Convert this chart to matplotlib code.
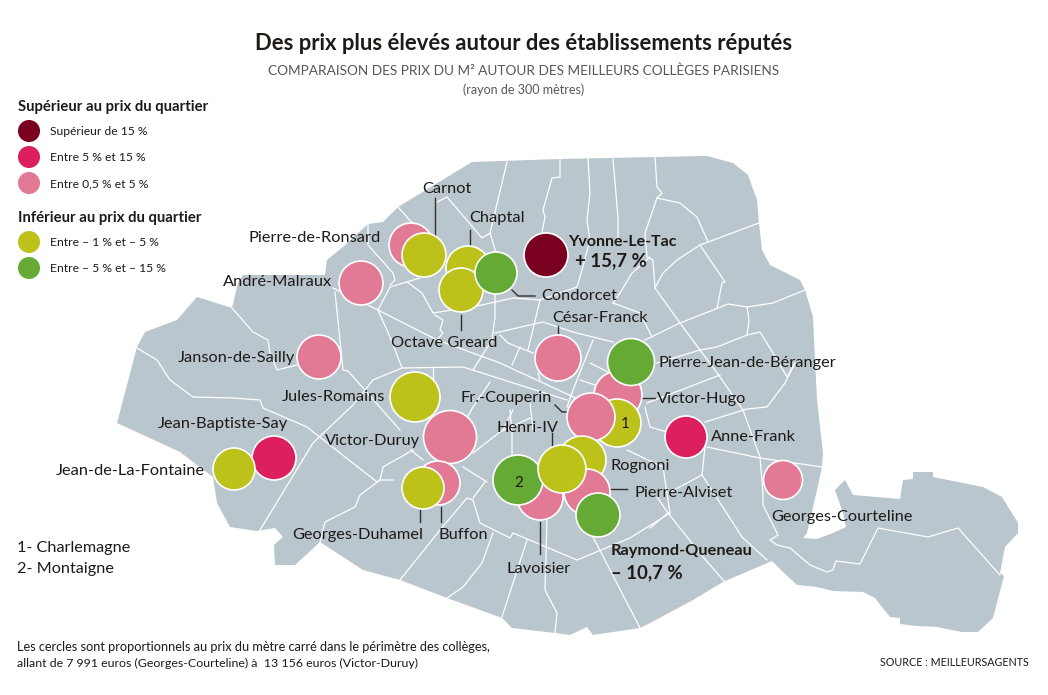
import matplotlib
matplotlib.use('Agg')
import matplotlib.pyplot as plt
from matplotlib.patches import Polygon, Circle

# Paris outline (image pixels)
paris_outline = [
    (472, 162), (560, 159), (655, 157), (707, 156), (733, 163), (748, 175), (757, 200), (759, 223),
    (762, 250), (770, 265), (800, 280), (805, 290), (813, 317), (815, 360), (817, 400), (823, 453),
    (822, 467), (817, 490), (807, 533), (803, 538), (817, 539), (833, 533), (846, 527), (843, 513),
    (835, 490), (845, 480), (853, 495), (900, 499), (903, 480), (913, 479), (913, 472), (933, 472),
    (933, 477), (983, 487), (1002, 497), (1018, 523), (1018, 533), (1005, 547), (1000, 573), (1004, 576),
    (993, 618), (978, 632), (962, 632), (937, 627), (917, 626), (900, 624), (900, 618), (890, 617),
    (882, 607), (875, 598), (863, 592), (833, 591), (817, 587), (797, 585), (783, 572), (772, 561),
    (723, 582), (693, 600), (650, 623), (640, 628), (593, 635), (587, 627), (570, 635), (555, 633),
    (512, 628), (502, 618), (447, 598), (400, 580), (363, 570), (320, 542), (295, 565), (275, 565),
    (274, 545), (283, 537), (275, 528), (257, 531), (230, 527), (217, 503), (213, 477), (180, 452),
    (117, 423), (137, 347), (145, 332), (177, 320), (197, 297), (232, 308), (238, 283), (243, 275),
    (325, 275), (327, 260), (343, 247), (368, 224), (383, 222), (398, 207),
]

# Quarter boundaries inside the map
quarter_lines = [
    [(507, 162), (490, 233), (498, 260)],
    [(560, 159), (560, 177), (552, 178), (543, 210), (545, 217), (540, 243)],
    [(588, 159), (590, 193), (587, 220), (590, 240), (580, 277), (577, 287), (540, 300), (528, 350)],
    [(613, 159), (618, 217), (618, 243)],
    [(655, 157), (657, 187), (662, 193), (657, 198), (645, 233), (647, 257), (653, 260), (655, 288),
     (680, 323), (700, 350), (720, 377), (743, 410), (760, 457), (763, 493), (763, 505), (778, 535),
     (770, 540), (777, 545), (790, 548), (810, 565), (827, 572), (833, 570), (836, 561), (860, 564),
     (878, 528), (928, 537), (958, 528), (1000, 575)],
    [(657, 198), (680, 203), (697, 217), (708, 242)],
    [(759, 223), (700, 245), (677, 260), (663, 273), (655, 288)],
    [(700, 245), (725, 282), (722, 283), (717, 308)],
    [(805, 290), (773, 303), (747, 307), (728, 304), (713, 310), (680, 323), (645, 340)],
    [(747, 307), (749, 320), (747, 335), (760, 332), (773, 353), (787, 377), (795, 363), (785, 383),
     (767, 407), (747, 409), (705, 422)],
    [(747, 335), (717, 347), (700, 350), (657, 363)],
    [(647, 403), (720, 375)],
    [(707, 447), (760, 458), (822, 467)],
    [(705, 447), (702, 475), (670, 492)],
    [(702, 475), (733, 523), (742, 537), (767, 560)],
    [(650, 528), (668, 513), (657, 497)],
    [(668, 513), (703, 557), (725, 582)],
    [(593, 537), (640, 628)],
    [(670, 513), (630, 538), (577, 560), (513, 533), (510, 538), (480, 523), (473, 500), (467, 498),
     (440, 530), (400, 580)],
    [(485, 482), (473, 498)],
    [(527, 540), (502, 617)],
    [(547, 520), (545, 590), (557, 613), (555, 633)],
    [(493, 533), (482, 563), (463, 587), (447, 598)],
    [(260, 530), (313, 443), (353, 405), (373, 380), (402, 368), (463, 367), (567, 400)],
    [(137, 348), (157, 360), (170, 380), (193, 397), (233, 398), (260, 400), (263, 408), (307, 427),
     (377, 482), (380, 480), (393, 480)],
    [(380, 480), (360, 495), (355, 507), (325, 522), (320, 542)],
    [(380, 480), (383, 467), (413, 450)],
    [(411, 450), (423, 460)],
    [(463, 467), (487, 482)],
    [(473, 453), (500, 432), (530, 418)],
    [(512, 455), (512, 433), (510, 410)],
    [(232, 308), (253, 332), (268, 340), (270, 353), (277, 370), (297, 365)],
    [(335, 292), (343, 370), (348, 371), (400, 430)],
    [(433, 368), (433, 380)],
    [(333, 288), (378, 310), (437, 340), (500, 363), (580, 400)],
    [(378, 310), (390, 287), (420, 278)],
    [(378, 310), (390, 337), (402, 368)],
    [(368, 224), (368, 245), (393, 273), (395, 280), (390, 285)],
    [(398, 207), (430, 243)],
    [(437, 202), (447, 197), (482, 238), (490, 233)],
    [(407, 282), (422, 293), (433, 313), (482, 305), (513, 298), (540, 300)],
    [(435, 315), (443, 320), (440, 330), (443, 333), (437, 340)],
    [(495, 293), (495, 317), (492, 340), (473, 370)],
    [(495, 333), (543, 322), (573, 332), (613, 342)],
    [(500, 335), (508, 343), (533, 353)],
    [(520, 347), (512, 365)],
    [(538, 373), (540, 380)],
    [(593, 340), (573, 390), (567, 407)],
    [(613, 303), (640, 313), (652, 337)],
    [(613, 303), (620, 293), (632, 273), (650, 257)],
    [(590, 363), (608, 372)],
    [(580, 380), (595, 385)],
    [(490, 382), (473, 407), (460, 430)],
    [(530, 403), (533, 430)],
    [(513, 410), (503, 430)],
    [(645, 407), (650, 427), (667, 432)],
    [(627, 450), (663, 467), (670, 513)],
]

# Colour groups of the legend
price_colors = {
    'high': '#7a0020',
    'mid': '#dc1f5e',
    'low': '#e27a95',
    'under': '#bcc21a',
    'far_under': '#65aa35',
}

# Colleges in drawing order (bottom first)
college_names = ['Pierre-de-Ronsard', 'Carnot', 'Chaptal', 'Octave Greard', 'Condorcet', 'Yvonne-Le-Tac',
                 'André-Malraux', 'Janson-de-Sailly', 'Jules-Romains', 'César-Franck', 'Victor-Hugo',
                 'Pierre-Jean-de-Béranger', 'Charlemagne', 'Fr.-Couperin', 'Anne-Frank', 'Georges-Courteline',
                 'Victor-Duruy', 'Jean-Baptiste-Say', 'Jean-de-La-Fontaine', 'Buffon', 'Georges-Duhamel',
                 'Rognoni', 'Lavoisier', 'Pierre-Alviset', 'Raymond-Queneau', 'Montaigne', 'Henri-IV']
college_x = [411, 424, 468, 461, 496, 546, 361, 319, 415, 558, 618, 631, 617, 591, 686, 783,
             450, 274, 234, 438, 423, 582, 540, 587, 598, 518, 562]
college_y = [245, 255, 268, 290, 273, 255, 283, 357, 397, 358, 395, 362, 423, 417, 437, 480,
             437, 458, 469, 483, 488, 460, 497, 492, 515, 480, 469]
college_r = [22, 22, 22, 22, 21, 22, 22, 22, 25, 23, 24, 23.5, 24, 24, 21, 19.5,
             26.5, 22, 21, 22, 21, 24, 23, 23, 22, 25, 24]
college_group = ['low', 'under', 'under', 'under', 'far_under', 'high', 'low', 'low', 'under', 'low', 'low',
                 'far_under', 'under', 'low', 'mid', 'low', 'low', 'mid', 'under', 'low', 'under',
                 'under', 'low', 'low', 'far_under', 'far_under', 'under']

# Labels: text, x, y, horizontal alignment
labels = [
    ('Carnot', 447, 189, 'center'), ('Chaptal', 497, 218, 'center'),
    ('Pierre-de-Ronsard', 381, 238, 'right'), ('André-Malraux', 332, 282, 'right'),
    ('Condorcet', 541, 296, 'left'), ('César-Franck', 600, 318, 'center'),
    ('Octave Greard', 444, 343, 'center'), ('Janson-de-Sailly', 295, 358, 'right'),
    ('Pierre-Jean-de-Béranger', 658, 363, 'left'), ('Jules-Romains', 385, 397, 'right'),
    ('Fr.-Couperin', 506, 398, 'center'), ('Victor-Hugo', 657, 399, 'left'),
    ('Jean-Baptiste-Say', 223, 424, 'center'), ('Henri-IV', 528, 428, 'center'),
    ('Anne-Frank', 711, 437, 'left'), ('Victor-Duruy', 420, 441, 'right'),
    ('Rognoni', 610, 466, 'left'), ('Jean-de-La-Fontaine', 205, 471, 'right'),
    ('Pierre-Alviset', 634, 493, 'left'), ('Georges-Courteline', 771, 517, 'left'),
    ('Georges-Duhamel', 423, 535, 'right'), ('Buffon', 438, 535, 'left'),
    ('Lavoisier', 539, 569, 'center'),
]
bold_labels = [
    ('Yvonne-Le-Tac', 568, 242, 'left', 11.5), ('+ 15,7 %', 575, 261, 'left', 13.4),
    ('Raymond-Queneau', 611, 551, 'left', 11.8), ('– 10,7 %', 611, 573, 'left', 13.4),
]

# Leader lines from labels to circles
leader_lines = [
    [(435, 198), (435, 235)], [(470, 230), (470, 247)], [(512, 290), (518, 296), (535, 296)],
    [(461, 315), (461, 330)], [(558, 326), (558, 336)],
    [(642, 398), (655, 398)], [(555, 405), (562, 412), (568, 412)], [(552, 433), (552, 445)],
    [(608, 489), (627, 489)], [(420, 510), (420, 522)], [(441, 507), (441, 522)],
    [(540, 522), (540, 554)],
]

legend_up_title = 'Supérieur au prix du quartier'
legend_up_groups = ['high', 'mid', 'low']
legend_up_texts = ['Supérieur de 15 %', 'Entre 5 % et 15 %', 'Entre 0,5 % et 5 %']
legend_up_y = [131, 157, 183]
legend_down_title = 'Inférieur au prix du quartier'
legend_down_groups = ['under', 'far_under']
legend_down_texts = ['Entre – 1 % et – 5 %', 'Entre – 5 % et – 15 %']
legend_down_y = [242, 268]

text_color = '#1e1a17'
plt.rcParams['font.family'] = ['Lato', 'DejaVu Sans']

fig = plt.figure(figsize=(10.48, 6.95), dpi=100)
ax = fig.add_axes([0, 0, 1, 1])
ax.set_xlim(0, 1048)
ax.set_ylim(695, 0)
ax.axis('off')

# Map
ax.add_patch(Polygon(paris_outline, closed=True, facecolor='#b9c6cd', edgecolor='none', zorder=1))
for line in quarter_lines:
    ax.plot([p[0] for p in line], [p[1] for p in line], color='white', lw=0.9, zorder=2,
            solid_joinstyle='round')

# Leader lines sit under the circles
for line in leader_lines:
    ax.plot([p[0] for p in line], [p[1] for p in line], color='#33302e', lw=1.0, zorder=3)

# Circles
for i in range(len(college_names)):
    ax.add_patch(Circle((college_x[i], college_y[i]), college_r[i],
                        facecolor=price_colors[college_group[i]], edgecolor='white', lw=1.2, zorder=4 + i * 0.01))

ax.text(625, 424, '1', fontsize=11, color=text_color, ha='center', va='center', zorder=6)
ax.text(519, 483, '2', fontsize=11, color=text_color, ha='center', va='center', zorder=6)

for text, x, y, ha in labels:
    ax.text(x, y, text, fontsize=11.8, color=text_color, ha=ha, va='center', zorder=7)
for text, x, y, ha, size in bold_labels:
    ax.text(x, y, text, fontsize=size, fontweight='bold', color=text_color, ha=ha, va='center', zorder=7)

# Titles
ax.text(524, 44, 'Des prix plus élevés autour des établissements réputés',
        fontsize=15.8, fontweight='bold', color=text_color, ha='center', va='center')
ax.text(524, 71, 'COMPARAISON DES PRIX DU M² AUTOUR DES MEILLEURS COLLÈGES PARISIENS',
        fontsize=9.8, color='#5a5654', ha='center', va='center')
ax.text(524, 90, '(rayon de 300 mètres)', fontsize=9, color='#5a5654', ha='center', va='center')

# Legend
ax.text(18, 107, legend_up_title, fontsize=10.7, fontweight='bold', color=text_color, va='center')
ax.text(18, 218, legend_down_title, fontsize=10.7, fontweight='bold', color=text_color, va='center')
for groups, texts, ys in [(legend_up_groups, legend_up_texts, legend_up_y),
                          (legend_down_groups, legend_down_texts, legend_down_y)]:
    for group, text, y in zip(groups, texts, ys):
        ax.add_patch(Circle((29, y), 11, facecolor=price_colors[group], edgecolor='none'))
        ax.text(50, y + 0.5, text, fontsize=8.7, color=text_color, va='center')

# Notes
ax.text(17, 548, '1- Charlemagne', fontsize=11.7, color=text_color, va='center')
ax.text(17, 569, '2- Montaigne', fontsize=11.7, color=text_color, va='center')
ax.text(17, 647, 'Les cercles sont proportionnels au prix du mètre carré dans le périmètre des collèges,',
        fontsize=9.2, color=text_color, va='center')
ax.text(17, 663, 'allant de 7 991 euros (Georges-Courteline) à  13 156 euros (Victor-Duruy)',
        fontsize=8.9, color=text_color, va='center')
ax.text(1029, 663, 'SOURCE : MEILLEURSAGENTS', fontsize=7.75, color=text_color, ha='right', va='center')

fig.savefig('out.png', dpi=100)
